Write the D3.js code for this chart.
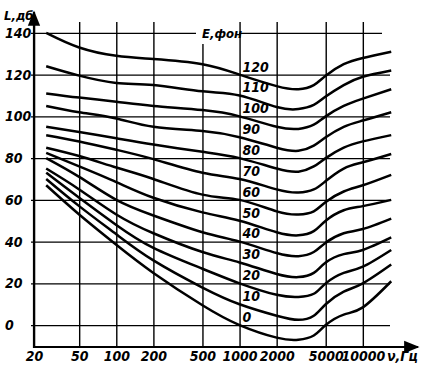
<!DOCTYPE html>
<html>
<head>
<meta charset="utf-8">
<script src="https://cdn.jsdelivr.net/npm/d3@7"></script>
<style>
  body { margin: 0; background: #fff; }
  text { font-family: "Liberation Sans Narrow", "DejaVu Sans Condensed", sans-serif; font-style: italic; font-weight: bold; fill: #000; }
</style>
</head>
<body>
<div id="graph"></div>
<script>
// frequencies (Hz) at which the curves were read
const freqs = [27, 50, 100, 200, 500, 1000, 2000, 3000, 4000, 5000, 7000, 10000, 17000];

// sound level L (dB) for each loudness level E (phon)
const e120 = [140, 133, 129, 127.5, 125, 120, 114.5, 113, 115, 119.5, 125, 128, 131];
const e110 = [124, 119.5, 116, 115, 112, 110, 104.5, 103.5, 105.5, 109.5, 115, 119, 122];
const e100 = [111, 109, 107, 105, 103, 100, 95, 94, 96, 100, 105, 108.5, 113];
const e90  = [105, 102, 99, 95, 93, 90, 85, 83.5, 86, 90, 95, 98, 102];
const e80  = [95, 92.5, 89.5, 86.5, 83, 80, 75, 73.5, 76, 80, 85, 88, 91];
const e70  = [91, 88, 84, 79.5, 73, 70, 65, 63.5, 65, 69, 75, 78, 82];
const e60  = [85, 81, 75.5, 70, 62.5, 60, 54.5, 53, 54.5, 59, 64, 67, 72];
const e50  = [82.5, 76, 68.5, 61, 54, 50, 44.5, 43, 45, 50, 55, 57, 60];
const e40  = [80, 71, 60, 52.5, 44.5, 40, 34.5, 33, 35, 39.5, 44, 46, 51];
const e30  = [75, 65, 53, 44, 35, 30, 24.5, 23, 25, 30, 34, 36, 42];
const e20  = [73, 61, 48, 37, 27, 20, 14.5, 13.5, 15, 20, 25, 28, 36];
const e10  = [70, 57, 43.5, 31, 18, 10, 4.5, 2.5, 4.5, 10, 16, 20, 29];
const e0   = [67, 53, 38.5, 25, 9.5, 0, -6, -7, -5, 0, 5, 8.5, 21];

const phons = [0, 10, 20, 30, 40, 50, 60, 70, 80, 90, 100, 110, 120];
const curves = [e0, e10, e20, e30, e40, e50, e60, e70, e80, e90, e100, e110, e120];

const yTicks = [0, 20, 40, 60, 80, 100, 120, 140];
const xTicks = [20, 50, 100, 200, 500, 1000, 2000, 5000, 10000];

const width = 428;
const height = 373;
const margin = {top: 12, bottom: 26, left: 34, right: 12};

const svg = d3.select("#graph")
    .append("svg")
    .attr("width", width)
    .attr("height", height);

const x = d3.scaleLog()
    .domain([21.5, 27000])
    .range([margin.left, width - margin.right])
    .clamp(true);

const y = d3.scaleLinear()
    .domain([-10.5, 150])
    .range([height - margin.bottom, margin.top]);

const gridRight = 390;
const gridTop = 22;

// horizontal grid + y labels
svg.append("g")
    .attr("transform", `translate(${margin.left}, 0)`)
    .call(d3.axisLeft(y).tickValues(yTicks).tickSize(-(gridRight - margin.left)).tickSizeOuter(0).tickFormat(d3.format("d")))
    .call(g => g.select(".domain").remove())
    .call(g => g.selectAll(".tick line").attr("stroke", "#000").attr("stroke-width", 1.4).attr("x1", -3))
    .call(g => g.selectAll(".tick").filter(d => d === 140).select("line").attr("x2", 382 - margin.left))
    .call(g => g.selectAll(".tick text")
        .attr("x", 5 - margin.left)
        .attr("text-anchor", "start")
        .attr("font-size", 14));

// vertical grid + x labels
svg.append("g")
    .attr("transform", `translate(0, ${height - margin.bottom})`)
    .call(d3.axisBottom(x).tickValues(xTicks).tickSize(-(height - margin.bottom - gridTop)).tickSizeOuter(0).tickPadding(4).tickFormat(d3.format("d")))
    .call(g => g.select(".domain").remove())
    .call(g => g.selectAll(".tick line").attr("stroke", "#000").attr("stroke-width", 1.4))
    .call(g => g.selectAll(".tick text").attr("font-size", 14));

// gap in the top grid line for the E label
svg.append("rect")
    .attr("x", 196).attr("y", 20)
    .attr("width", 43).attr("height", 24)
    .attr("fill", "#fff");

svg.append("text")
    .attr("x", 202).attr("y", 38)
    .attr("font-size", 13)
    .text("E,фон");

// axes with arrows
svg.append("defs").append("marker")
    .attr("id", "arrow")
    .attr("viewBox", "0 0 10 10")
    .attr("refX", 9).attr("refY", 5)
    .attr("markerWidth", 7).attr("markerHeight", 7)
    .attr("orient", "auto")
    .append("path")
    .attr("d", "M0,1L10,5L0,9Z")
    .attr("fill", "#000");

svg.append("line")
    .attr("x1", margin.left).attr("x2", margin.left)
    .attr("y1", y(-10.5) + 1).attr("y2", margin.top)
    .attr("stroke", "#000").attr("stroke-width", 2.2)
    .attr("marker-end", "url(#arrow)");

svg.append("line")
    .attr("x1", margin.left - 1).attr("x2", width - 10)
    .attr("y1", y(-10.5)).attr("y2", y(-10.5))
    .attr("stroke", "#000").attr("stroke-width", 2.2)
    .attr("marker-end", "url(#arrow)");

svg.append("text")
    .attr("x", 4).attr("y", 20)
    .attr("font-size", 13)
    .text("L,дб");

svg.append("text")
    .attr("x", 387).attr("y", y(-10.5) + 14)
    .attr("font-size", 14)
    .text("ν,Гц");

// loudness curves
const line = d3.line()
    .x((d, i) => x(freqs[i]))
    .y(d => y(d))
    .curve(d3.curveNatural);

svg.append("g")
    .selectAll("path")
    .data(curves)
    .join("path")
    .attr("d", line)
    .attr("fill", "none")
    .attr("stroke", "#000")
    .attr("stroke-width", 2.5);

svg.append("g")
    .selectAll("text")
    .data(phons)
    .join("text")
    .attr("x", x(1000) + 3)
    .attr("y", d => y(d) - 8)
    .attr("dy", "0.35em")
    .attr("font-size", 14)
    .text(d => d);
</script>
</body>
</html>
